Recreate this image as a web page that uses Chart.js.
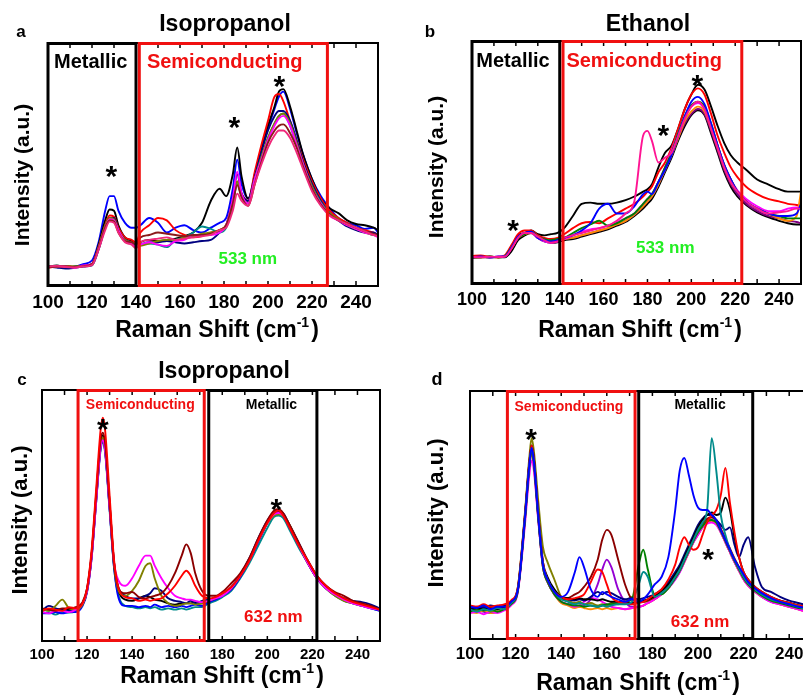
<!DOCTYPE html>
<html>
<head>
<meta charset="utf-8">
<script src="https://cdn.jsdelivr.net/npm/chart.js@4.4.0/dist/chart.umd.min.js"></script>
<style>
html, body { margin: 0; padding: 0; width: 803px; height: 696px; overflow: hidden; background: #fff; }
canvas { position: absolute; }
</style>
</head>
<body>
<canvas id="pa" width="400" height="345" style="left:0;top:0"></canvas>
<canvas id="pb" width="403" height="345" style="left:400px;top:0"></canvas>
<canvas id="pc" width="400" height="351" style="left:0;top:345px"></canvas>
<canvas id="pd" width="420" height="351" style="left:400px;top:345px"></canvas>
<script>
// ---- panel a : isopropanol, 533 nm ----
var shiftA = [100,104,108,112,116,120,123,126,128,130,132,135,138,140,142,146,150,154,158,162,166,170,174,178,181,184,186,188,191,194,197,200,203,205,207,210,213,216,220,224,228,232,236,240,244,248,250];
var aPink    = [8,8.3,7.8,7.6,8,8.6,15,23,26.5,26,22,18,17,15.5,18,19,19.5,20,19,19.5,20,20.5,21,23,24,31,38,35,33,42,50,57,62,64,64,61,55,48,39,33,29,27,25.5,24,22.5,21,20.5];
var aBrown   = [7.7,8,8,7.8,8.2,9,15.5,24,27,26.5,22,18.5,18,17,20,21,22,21.5,21,20.5,21,21,21.5,23,25,34,41.5,36.5,33,42,51,59,64,66,66.5,63,57,49,40,33.5,29.5,27,25.5,24,22.5,21.5,21];
var aMagenta = [7.8,8,8,7.5,8.5,9,15.5,24,27.5,27,23,18.5,17.5,16,17,18,17,16.5,18.5,19,21,21,21,22,25,36,47,38,34,44,52,60,66,69,70,66,58,50,40,34,29,27,25,23.5,22,21,20];
var aOlive   = [8,7.8,8.3,8,8.2,8.8,16,25,28,27.5,23,19,18,17,16.5,17.5,18.5,19,19,20,20.5,21.5,22,23,25,35,43,37,34,44,53,61,67,70,71,67,59,50,41,34,30,27.5,25,23.5,22,21,20.5];
var aTeal    = [8,8.2,7.8,7.9,8.1,8.7,15.5,24,27,27,22.5,18.5,17.5,16,17,17.5,17,16,19,20,22,24.5,23.5,22,24,34,42,37,34,44,53,61,67,70,71,66,58,50,41,34.5,30,27,25.5,24,22.5,21,21];
var aNavy    = [8,7.6,7.2,7.5,8,8.5,15,24,28,28,23,19,18,16.5,17,18,18,18.5,18,17.5,18,18.5,19,22,25,36,46,38,35,45,55,64,70,72,72,68,60,51,42,35,30,27,24.5,23,22,22,21];
var aRed     = [7.5,8,8.2,7.8,8.2,9,16,25,29,28.5,24,20,19,18,22,25,28,27,23,21,20,20.5,22,23,25,33,43,38,35,47,58,68,78,79,76,68,60,52,43,36,31,28,26,24,23,22,21];
var aBlack   = [8,8.5,7.5,8,8.3,9,17,27,31.5,31,25,20,18.5,16,18,19,18.5,19,19.5,20.5,22,26,35,40,37,46,57,45,36,45,57,66,74,80,81,74,64,54,44,36,32,30,27,25.5,25,24,23];
var aBlue    = [8,7.8,7.5,7.8,9,10.5,18,31,37,37,31,26,24,24,25,28,26,22,24,25,23,22,24,26,28,40,52,42,36,46,56,65,73,78,80,73,63,54,44,37,32,28,26,25,23.5,24,22];

// ---- panel b : ethanol, 533 nm ----
var shiftB = [100,104,108,112,115,118,121,124,127,130,133,136,139,142,146,150,154,158,162,166,170,174,178,180,182,185,188,191,194,197,200,203,206,209,212,215,218,221,225,230,235,240,244,248,250];
var bBlack   = [11,11,11.3,11,11.5,15.5,20,21,22,20.5,20,20.5,21,23,28,33,33.5,33,33,33.5,34.5,36,38,39,41,48,54,57,64,72,78,82,80,73,65,58,53,50,47,43,41,39,38,38,38];
var bRed     = [11.5,11.8,11.2,11,11.8,16,20.5,22,22,20,19,18.5,19,20.5,23,25,25.5,25,27,29,31,33,36,38,40,46,50,56,64,72,78,80.5,78,70,61,54,48,44,40,37,35,34,33,32.5,32];
var bPink    = [11.2,11,11.2,11.1,11.3,14.5,19,21,21,19.5,18,17,17.5,19,20,21,22,23,24,26,29,34,61,63,59,50,52,54,61,68,73,75,72,64,56,48,42,38,34,31,29,29.5,30,31,31];
var bBlue    = [11,11.3,11,11.2,11.4,15,19.5,21,21.5,19,18,17.5,18,19,20,22,25,31,33,29,29,32,37,38,37,42,47,53,61,69,75,77,74,66,57,49,43,38,34,31,29,28,28,29,33];
var bGreen   = [11.1,11,11.3,11,11.5,15,19,20.5,21.5,19.5,18.5,18,18.5,19,21,23,24.5,26,24,25,27,29,33,35,37,42,48,54,62,69,73.5,75,73,66,57,49,43,38,34,31,29,28,27,27,27];
var bMagenta = [11,11.1,11,11.2,11.3,14.8,19,21,21,19,17.5,17,17.5,18.5,20,21.5,22.5,23,24,25.5,27,29,33,35,37,42,48,55,62,69,73,74.5,72,65,57,49,43,38.5,35,32,30,30,31,31.5,31];
var bOrange  = [11,11,11.2,11,11.4,14.8,19,20.5,21,19.5,18,17.5,18,18.5,19,20,21,22,23,24.5,26,28.5,32,34,36,41,47,53,60,67,71,73,71,64,56,48,42,38,34,31,29,27,26,28,38];
var bPurple  = [11,11.2,11,11.3,11.5,15,19,20.5,21.5,19.5,18,17.5,18,18.5,19,20,21,22,23,24.5,26,28.5,32,34,36,41,47,53,60,66,70,72,70,63,55,47,41,37,33,30,28,27,26,25.5,25];
var bBlack2  = [10.8,11,10.9,11,11,13.5,18,20,21,19,17.5,17,17.2,18,18.5,19.5,20.5,21.5,22.5,24,25.5,28,31,33,35,40,46,52,59,65,69.5,71.5,69.5,62,54,46,40,36,32.5,29.5,27.5,26,25,24.5,24.5];

// ---- panel c : isopropanol, 632 nm ----
var shiftC = [100,103,106,109,112,115,118,120,122,124,126,127,128,130,132,134,137,140,143,146,148,150,153,156,159,162,164,166,168,171,174,177,180,184,188,192,196,200,203,205,207,210,214,218,222,226,230,234,238,242,246,250];
var cRed     = [12,13,12.5,12,13.5,13,15,21,36,60,84,89,84,58,32,21,17.5,17,16,16.5,16,16.5,17,19,22,26,28,26,22,18,17,17.5,19,21.5,26,32,40,47,51,52,50,45,38,32,26,22,19,17,15.5,14.5,13.5,12.5];
var cBrown   = [13,12.5,12,13,13,13.5,15.5,21,35,58,80,83,79,55,31,21,19,19.5,17.5,17,17.5,18,19,22,27,34,38.5,35,27,20,18,18,19.5,23,27,33,41,48,52,52.5,51,46,39,32,26,22,19.5,18,16,15,14,12.5];
var cMagenta = [11.5,11,12,12,11.5,12.5,15,20,33,55,77,80,76,53,31,24,22,25,30,34,34,30,25,21,18,17,16.5,16.5,16,15.5,16,17,18,21,26,32,40,47,50.5,51,50,45,38,31,25,21,18.5,16.5,15,14,13,12.5];
var cOlive   = [13,12,14,16.5,13,12.5,14.5,20,34,56,78,81,77,54,30,20,18,20,24,30,31,25,18,15,14,14.5,15,15,14.5,15,16,17,18.5,21,26,32,40,47,50,50.5,50,46,38,31,25,21,18,16,15,14,13.5,12.5];
var cNavy    = [12,14,13,12.5,12,12.5,14.5,20,34,56,77,80,76,53,30,21,18,17,17,18,19,21,20,17,16,15.5,15,16,15,16,16.5,17.5,19,21.5,26.5,33,41,48,51.5,52,51,46,39,32,26,22,19,17,16,15.5,14.5,13];
var cBlack   = [12,12.5,12,12.5,12.5,13,15,20.5,34,57,79,82,78,55,31,20,16.5,16,17,18,17.5,16.5,16,15,14.5,15,15,15,15.5,15,16,17,18.5,21,26,32,40,47,50.5,51,50,45,38,31,25,21,18.5,17,15.5,14.5,13.5,12.5];
var cBlue    = [11,11,11.5,11,11.5,11.5,14,19.5,33,55,77,80,76,53,29,17,14,14,13.5,14,13.5,14.5,13.5,14,13.5,14,13.5,14,14.5,14,15.5,16.5,18,20.5,25.5,32,39.5,47,51,51.5,50.5,45.5,38,31,25,21,18.5,16.5,15,14,13,12];
var cTeal    = [11,11.5,10.5,11.5,11.3,12,14.5,20,33,55,76,79,75,52,29,18,14,13.5,13,13.5,13,13.5,12.5,13,12.5,13,12.5,13,13.5,13.5,15,16,17.5,20,25,31,38,45,49.5,50,49,44,37,31,25,21,18,16,15,14,13,12];

// ---- panel d : 632 nm ----
var shiftD = [100,103,106,109,112,115,118,121,124,126,127,128,130,132,134,137,140,143,146,148,150,153,156,158,160,162,165,168,171,174,176,178,181,184,187,190,192,194,196,198,200,202,204,206,208,210,212,214,216,218,220,222,225,228,232,236,240,244,248,250];
var dBlue    = [13,12.5,13.5,12,13,13,15,20,48,70,77,72,49,30,24,19,17,19,27,33,29,20,17,19,18,17,16,15,16,15,16,18,22,25,33,52,68,73,66,58,53,52,52,50,48,44,40,36,32,29,26,23,20.5,18.5,16.5,15,14,13,12.5,12];
var dTeal    = [12,11,12,11.5,12.5,12,14.5,20,48,70,77,72,49,30,24,19,16,15,14,14.5,14,13.5,13,13.5,13,13.5,14,14,15,22,27,25,17,18.5,21,25,28,32,36,40,44,47,52,81,68,50,42,36,32,28.5,25,22.5,20,18,16,15,14,13,12,11.5];
var dRed     = [13.5,13,14,13,13.5,14,15.5,21,49,71,78,73,50,31,24,19,17,16,16.5,17,18,23,28,27,22,17,15,14.5,14,14.5,15,16,18,20,24,30,37,41,38,36,37,42,47,50,52,58,69,55,43,33,27,24,21,19,17,15.5,14.5,13.5,13,12.5];
var dBlack   = [12,12.5,12,12.5,12,13,15,20.5,49,71,78,73,50,31,25,20,17,16.5,16,16.5,16,16,15.5,16,15.5,15,15,14.5,14.5,15,15.5,16,17.5,19.5,22,26,29,33,37,41,45,48,50,51,50,51,57,52,41,33,27,24,21,19,17,15.5,14.5,13.5,13,12.5];
var dNavy    = [12,13,12.5,13.5,13,13.5,15,20,48,70,77,72,49,30,24,19,17,16,15.5,16,15.5,17,19,18,19,18.5,17,16,16.5,16,16.5,17,18,20,23,27,30,34,38,42,46,48.5,50,50,48,46,44,45,38,33,38,41,29,21,19,17,15.5,14.5,13.5,13];
var dGreen   = [11,12,11.5,12,11,12,14,19.5,47,69,76,71,48,29,23,18,15,14,13.5,13.5,13,13.5,13,13.5,14,14,14.5,15,16,30,36,28,18,18,20.5,24.5,27.5,31.5,35.5,39.5,43,45.5,47.5,48,47,43.5,39.5,35.5,31.5,28,24.5,22,19.5,17.5,15.5,14.5,13.5,12.5,12,11.5];
var dBrown   = [12.5,12,13,12,12.5,13,14.5,20,48,70,77,72,49,30,24,19,16,16.5,18,19,21,25,32,40,44,42,32,22,16,15,15,15.5,17,19,21.5,25.5,28.5,32.5,36.5,40.5,44,46.5,48.5,49,48,44.5,40.5,36.5,32.5,29,25.5,23,20.5,18.5,16.5,15.5,14.5,13.5,12.5,12];
var dOlive   = [12,11.5,12.5,11,12,13,15,21,50,73,81,76,55,37,31,24,17,15.5,14.5,15,14,14.5,13.5,14,13.5,14.5,14,15,17,15,15,15.5,17,19,22,26,29,33,37,41,44,46.5,48,48,47,44,40,36,32,28.5,25,22.5,20,18,16.5,15,14,13,12.5,12];
var dMagenta = [10.5,11,10,11,10.5,11.5,13.5,19,45,66,72,68,47,29,23,18,15,14,13,13.5,15,16.5,16,15,14,13,12.5,12,12.5,13,13.5,14.5,16,18,20.5,24,27,31,35,39,42,45,46.5,47,46,43,39,35,31,27.5,24,21.5,19,17,15,14,13,12,11,11];
var dOrange  = [11,10.5,11.5,10.5,11,12,14,19.5,47,69,75,70,48,29,23,18,14.5,13.5,12.5,13,12.5,12,12.5,12,12.5,12,12.5,12,12.5,13,13.5,14.5,16,18,20.5,24.5,27.5,31,35,39,42.5,45,47,47.5,46.5,43,39,35,31,27.5,24,21.5,19,17,15.5,14,13,12,11,11];
var dPurple  = [10.5,11.5,11,10.5,11,12,14,19.5,47,69,75,70,48,29,23,18,15,14,13.5,13,13.5,16,22,28,32,29,20,15,13,13,13.5,14.5,16,18,20.5,24,27,31,35,39,42,45,47,47.5,46.5,43,39,35,31,27.5,24,21.5,19,17,15,14,13,12,11,10.5];

var FONT = '"Liberation Sans", Arial, sans-serif';
var RED = '#f01010';

function pts(xs, ys) {
  return xs.map(function (x, i) { return { x: x, y: ys[i] }; });
}

function series(xs, list) {
  return list.map(function (s) {
    return { data: pts(xs, s[0]), borderColor: s[1], borderWidth: 1.9, pointRadius: 0,
             fill: false, cubicInterpolationMode: 'monotone' };
  });
}

function font(size) { return 'bold ' + size + 'px ' + FONT; }

// frame, ticks, region boxes and annotations
var decor = {
  id: 'decor',
  afterDatasetsDraw: function (chart, args, o) {
    var ctx = chart.ctx, a = chart.chartArea, sx = chart.scales.x, sy = chart.scales.y;
    ctx.save();
    ctx.strokeStyle = '#000';
    ctx.lineWidth = 2;
    ctx.strokeRect(a.left, a.top, a.right - a.left, a.bottom - a.top);
    ctx.lineWidth = 1.5;
    for (var v = 110; v < 250; v += 10) {
      var px = sx.getPixelForValue(v);
      ctx.beginPath();
      ctx.moveTo(px, a.bottom); ctx.lineTo(px, a.bottom - 5);
      ctx.moveTo(px, a.top); ctx.lineTo(px, a.top + 5);
      ctx.stroke();
    }
    ctx.lineWidth = 3;
    o.boxes.forEach(function (b) {
      var l = sx.getPixelForValue(b.from), r = sx.getPixelForValue(b.to);
      ctx.strokeStyle = b.color;
      ctx.strokeRect(l, a.top + 0.5, r - l, a.bottom - a.top - 1);
    });
    ctx.textAlign = 'center';
    ctx.textBaseline = 'middle';
    o.notes.forEach(function (n) {
      ctx.font = font(n.size);
      ctx.fillStyle = n.color;
      var dy = n.text === '*' ? n.size * 0.28 : 0;
      ctx.fillText(n.text, sx.getPixelForValue(n.x), sy.getPixelForValue(n.y) + dy);
    });

    // panel letter, title, axis titles
    ctx.fillStyle = '#000';
    ctx.font = font(o.letterSize);
    ctx.fillText(o.letter[0], o.letter[1], o.letter[2]);
    if (o.title) {
      ctx.font = font(23);
      ctx.fillText(o.title[0], o.title[1], o.title[2]);
    }
    ctx.save();
    ctx.translate(o.yTitle[0], o.yTitle[1]);
    ctx.rotate(-Math.PI / 2);
    ctx.font = font(o.yTitle[2]);
    ctx.fillText('Intensity (a.u.)', 0, 0);
    ctx.restore();

    var main = 'Raman Shift (cm', sup = '-1', end = ')';
    var fs = 23, ss = 14;
    ctx.font = font(fs);
    var w1 = ctx.measureText(main).width, w3 = ctx.measureText(end).width;
    ctx.font = font(ss);
    var w2 = ctx.measureText(sup).width;
    var x0 = o.xTitle[0] - (w1 + w2 + w3 + 2) / 2, base = o.xTitle[1];
    ctx.textAlign = 'left';
    ctx.textBaseline = 'alphabetic';
    ctx.font = font(fs);
    ctx.fillText(main, x0, base);
    ctx.font = font(ss);
    ctx.fillText(sup, x0 + w1, base - 10);
    ctx.font = font(fs);
    ctx.fillText(end, x0 + w1 + w2 + 2, base);
    ctx.restore();
  }
};

function makeChart(id, xs, list, pad, tickSize, deco) {
  new Chart(document.getElementById(id), {
    type: 'line',
    data: { datasets: series(xs, list) },
    plugins: [decor],
    options: {
      responsive: false,
      animation: false,
      layout: { padding: pad },
      plugins: { legend: { display: false }, tooltip: { enabled: false }, decor: deco },
      scales: {
        x: {
          type: 'linear', min: 100, max: 250,
          grid: { display: false, drawTicks: false }, border: { display: false },
          ticks: { stepSize: 20, includeBounds: false, color: '#000', padding: 5,
                   maxRotation: 0, font: { family: FONT, size: tickSize, weight: 'bold' } },
          afterFit: function (s) { s.height = 30; }
        },
        y: { display: false, min: 0, max: 100 }
      }
    }
  });
}

makeChart('pa', shiftA,
  [[aPink, '#f0287a'], [aBrown, '#8b1a1a'], [aMagenta, '#ff00ff'], [aOlive, '#808000'],
   [aTeal, '#008b8b'], [aNavy, '#000080'], [aRed, '#ff0000'], [aBlack, '#000000'], [aBlue, '#0000ff']],
  { left: 48, top: 43, right: 22, bottom: 29 }, 19,
  { boxes: [{ from: 100, to: 140, color: '#000' }, { from: 141.5, to: 227, color: RED }],
    notes: [{ text: 'Metallic', x: 119.4, y: 91.8, size: 20, color: '#000' },
            { text: 'Semiconducting', x: 180.3, y: 91.8, size: 20, color: RED },
            { text: '533 nm', x: 190.8, y: 11.1, size: 17, color: '#22ee22' },
            { text: '*', x: 128.8, y: 48, size: 30, color: '#000' },
            { text: '*', x: 184.7, y: 68.3, size: 30, color: '#000' },
            { text: '*', x: 205.1, y: 85, size: 30, color: '#000' }],
    letter: ['a', 21, 32], letterSize: 17, title: ['Isopropanol', 225, 25],
    yTitle: [23, 175, 21], xTitle: [217, 337] });

makeChart('pb', shiftB,
  [[bPink, '#ff1493'], [bBlue, '#0000ff'], [bGreen, '#008000'], [bMagenta, '#ff00ff'],
   [bOrange, '#ff8c00'], [bPurple, '#800080'], [bRed, '#ff0000'], [bBlack, '#000000'], [bBlack2, '#000000']],
  { left: 72, top: 41, right: 2, bottom: 31 }, 18,
  { boxes: [{ from: 100, to: 140, color: '#000' }, { from: 141.5, to: 223, color: RED }],
    notes: [{ text: 'Metallic', x: 118.7, y: 91.4, size: 20, color: '#000' },
            { text: 'Semiconducting', x: 178.5, y: 91.4, size: 20, color: RED },
            { text: '533 nm', x: 188.1, y: 14.8, size: 17, color: '#22ee22' },
            { text: '*', x: 118.7, y: 25.1, size: 30, color: '#000' },
            { text: '*', x: 187.2, y: 64.2, size: 30, color: '#000' },
            { text: '*', x: 202.7, y: 84.8, size: 30, color: '#000' }],
    letter: ['b', 30, 32], letterSize: 17, title: ['Ethanol', 248, 25],
    yTitle: [37, 167, 21], xTitle: [240, 337] });

makeChart('pc', shiftC,
  [[cRed, '#ff0000'], [cBrown, '#8b0000'], [cMagenta, '#ff00ff'], [cOlive, '#808000'],
   [cNavy, '#000080'], [cBlack, '#000000'], [cBlue, '#0000ff'], [cTeal, '#008b8b']],
  { left: 42, top: 45, right: 20, bottom: 25 }, 15,
  { boxes: [{ from: 116, to: 172, color: RED }, { from: 174, to: 222, color: '#000' }],
    notes: [{ text: 'Semiconducting', x: 143.6, y: 94, size: 14, color: RED },
            { text: 'Metallic', x: 201.8, y: 94, size: 14, color: '#000' },
            { text: '632 nm', x: 202.7, y: 9.6, size: 17, color: RED },
            { text: '*', x: 127, y: 87.3, size: 30, color: '#000' },
            { text: '*', x: 204, y: 55.4, size: 30, color: '#000' }],
    letter: ['c', 22, 35], letterSize: 17, title: ['Isopropanol', 224, 27],
    yTitle: [21, 175, 22], xTitle: [222, 338] });

makeChart('pd', shiftD,
  [[dBlue, '#0000ff'], [dTeal, '#008b8b'], [dRed, '#ff0000'], [dBlack, '#000000'],
   [dNavy, '#000080'], [dGreen, '#008000'], [dBrown, '#8b0000'], [dOlive, '#808000'],
   [dMagenta, '#ff00ff'], [dOrange, '#ff8c00'], [dPurple, '#9400d3']],
  { left: 70, top: 46, right: 8, bottom: 27 }, 17,
  { boxes: [{ from: 116.4, to: 172.4, color: RED }, { from: 174, to: 224, color: '#000' }],
    notes: [{ text: 'Semiconducting', x: 143.4, y: 93.5, size: 14, color: RED },
            { text: 'Metallic', x: 200.9, y: 94.4, size: 14, color: '#000' },
            { text: '632 nm', x: 200.9, y: 6.9, size: 17, color: RED },
            { text: '*', x: 126.8, y: 83.5, size: 30, color: '#000' },
            { text: '*', x: 204.4, y: 35.1, size: 30, color: '#000' }],
    letter: ['d', 37, 35], letterSize: 18, title: null,
    yTitle: [37, 168, 22], xTitle: [238, 345] });
</script>
</body>
</html>
